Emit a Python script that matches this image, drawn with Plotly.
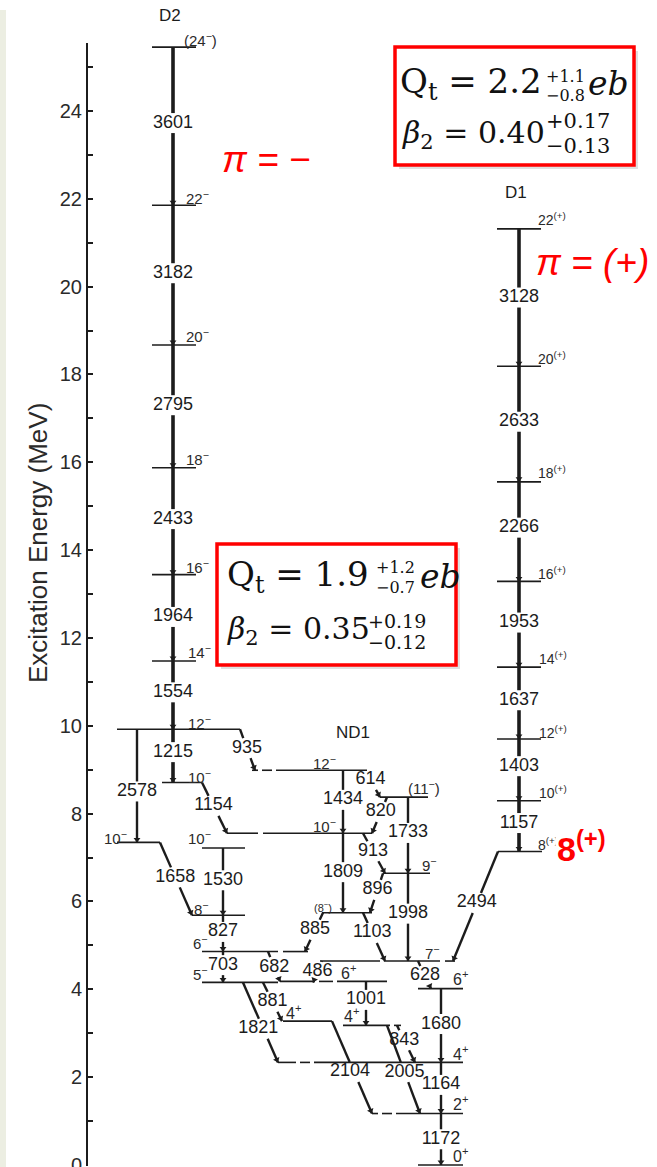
import math
import plotly.graph_objects as go

# ------------------------------------------------------------------
# Gamma-ray transitions: energy (keV), initial level, final level
# ------------------------------------------------------------------
gamma_kev = [1172, 1164, 1680, 628, 1998, 1733, 2494,
             1157, 1403, 1637, 1953, 2266, 2633, 3128,
             843, 1001, 2005, 2104, 1821, 881, 703, 682, 486,
             827, 1658, 1530, 2578, 1215, 935, 1154,
             885, 1103, 1809, 896, 913, 820, 614, 1434,
             1554, 1964, 2433, 2795, 3182, 3601]
gamma_from = ["g2", "g4", "g6", "n7", "n9", "n11", "p8",
              "p10", "p12", "p14", "p16", "p18", "p20", "p22",
              "b4", "b6", "b4", "a4", "m5", "m5", "m6", "m6", "n7",
              "m8", "m10a", "m10c", "m12", "m12", "m12", "m10b",
              "nd8", "nd8", "nd10", "n9", "nd10", "n11", "nd12", "nd12",
              "m14", "m16", "m18", "m20", "m22", "m24"]
gamma_to = ["g0", "g2", "g4", "g6", "n7", "n9", "n7",
            "p8", "p10", "p12", "p14", "p16", "p18", "p20",
            "g4", "b4", "g2", "g2", "g4", "a4", "m5", "b6", "m5",
            "m6", "m8", "m8", "m10a", "m10b", "nd12", "nd10",
            "m6", "n7", "nd8", "nd8", "n9", "nd10", "n11", "nd10",
            "m12", "m14", "m16", "m18", "m20", "m22"]

# Spin-parity labels of the levels
level_keys = ["g0", "g2", "g4", "g6", "n7", "n9", "n11",
              "p8", "p10", "p12", "p14", "p16", "p18", "p20", "p22",
              "b4", "b6", "a4", "m5", "m6", "m8", "m10a", "m10c", "m10b", "m12",
              "nd8", "nd10", "nd12",
              "m14", "m16", "m18", "m20", "m22", "m24"]
level_spins = ["0<sup>+</sup>", "2<sup>+</sup>", "4<sup>+</sup>", "6<sup>+</sup>",
               "7<sup>−</sup>", "9<sup>−</sup>", "(11<sup>−</sup>)",
               "8<sup>(+)</sup>", "10<sup>(+)</sup>", "12<sup>(+)</sup>", "14<sup>(+)</sup>",
               "16<sup>(+)</sup>", "18<sup>(+)</sup>", "20<sup>(+)</sup>", "22<sup>(+)</sup>",
               "4<sup>+</sup>", "6<sup>+</sup>", "4<sup>+</sup>", "5<sup>−</sup>", "6<sup>−</sup>",
               "8<sup>−</sup>", "10<sup>−</sup>", "10<sup>−</sup>", "10<sup>−</sup>", "12<sup>−</sup>",
               "(8<sup>−</sup>)", "10<sup>−</sup>", "12<sup>−</sup>",
               "14<sup>−</sup>", "16<sup>−</sup>", "18<sup>−</sup>", "20<sup>−</sup>",
               "22<sup>−</sup>", "(24<sup>−</sup>)"]

band_names = ["D2", "D1", "ND1"]
y_tick_values = [0, 2, 4, 6, 8, 10, 12, 14, 16, 18, 20, 22, 24]
y_title = "Excitation Energy (MeV)"

# Deformation results quoted for the two bands
qt_d1 = ("2.2", "+1.1", "−0.8")
beta_d1 = ("0.40", "+0.17", "−0.13")
qt_d2 = ("1.9", "+1.2", "−0.7")
beta_d2 = ("0.35", "+0.19", "−0.12")

# ------------------------------------------------------------------
# Level energies follow from the gamma-ray energies
# ------------------------------------------------------------------
level_kev = {"g0": 0.0}
changed = True
while changed:
    changed = False
    for eg, a, b in zip(gamma_kev, gamma_from, gamma_to):
        if b in level_kev and a not in level_kev:
            level_kev[a] = level_kev[b] + eg
            changed = True
        elif a in level_kev and b not in level_kev:
            level_kev[b] = level_kev[a] - eg
            changed = True


def mev(key):
    return level_kev[key] / 1000.0


# ------------------------------------------------------------------
# Page geometry
# ------------------------------------------------------------------
W, H = 657, 1167
M_L, M_R, M_T, M_B = 88, 0, 43, 1
PX_PER_MEV = 43.92
PLOT_H = H - M_T - M_B
Y_LO = -M_B / PX_PER_MEV
Y_HI = Y_LO + PLOT_H / PX_PER_MEV
ZERO_PY = H - 2 * M_B  # pixel row of 0 MeV


def xp(px):
    return (px - M_L) / (W - M_L - M_R)


def yp(py):
    return (H - M_B - py) / PLOT_H


def level_py(key):
    return ZERO_PY - mev(key) * PX_PER_MEV


INK = "#1c1c1c"
RED = "#ff0000"
FONT = "Liberation Sans, Arial, sans-serif"
SERIF = "DejaVu Serif, serif"

# horizontal extent(s) of each level line (x in page pixels)
LEVEL_SEGS = {
    "g0": [(418, 463)],
    "g2": [(372, 378), (382, 392), (396, 463)],
    "g4": [(278, 296), (300, 310), (314, 463)],
    "g6": [(418, 463)],
    "n7": [(320, 380), (384, 440), (445, 455)],
    "n9": [(383, 430)],
    "n11": [(380, 428)],
    "p8": [(498, 542)],
    "b4": [(343, 390), (394, 401)],
    "b6": [(280, 315), (319, 333), (337, 387)],
    "a4": [(283, 332)],
    "m5": [(202, 278)],
    "m6": [(202, 278), (283, 308)],
    "m8": [(192, 245)],
    "m10a": [(117, 160)],
    "m10c": [(202, 245)],
    "m10b": [(162, 202)],
    "m12": [(117, 240)],
    "nd8": [(322, 372)],
    "nd10": [(227, 258), (263, 372)],
    "nd12": [(252, 258), (262, 272), (276, 367)],
}
for k in ["p10", "p12", "p14", "p16", "p18", "p20", "p22"]:
    LEVEL_SEGS[k] = [(497, 541)]
for k in ["m14", "m16", "m18", "m20", "m22", "m24"]:
    LEVEL_SEGS[k] = [(152, 196)]

# spin label placement: (left x in pixels, vertical offset in pixels, font size)
SPIN_POS = {
    "m24": (182, -8, 15), "m22": (184, -8, 15), "m20": (184, -10, 15),
    "m18": (184, -9, 15), "m16": (184, -8, 15), "m14": (186, -9, 15),
    "m12": (186, -7, 15), "m10b": (186, -6, 15), "m10a": (102, -5, 15),
    "m10c": (186, -11, 15), "m8": (192, -7, 15), "m6": (191, -9, 15),
    "m5": (191, -9, 15), "nd12": (311, -8, 15), "nd10": (311, -8, 15),
    "n11": (406, -10, 15), "n9": (420, -9, 15), "nd8": (312, -6, 11),
    "n7": (423, -9, 15), "g6": (451, -11, 16), "g4": (451, -9, 16),
    "g2": (451, -11, 16), "g0": (451, -10, 16), "b6": (339, -9, 16),
    "b4": (342, -10, 16), "a4": (284, -9, 16),
    "p22": (536, -10, 14), "p20": (536, -8, 14), "p18": (536, -10, 14),
    "p16": (536, -8, 14), "p14": (537, -9, 14), "p12": (537, -7, 14),
    "p10": (537, -9, 14), "p8": (536, -7, 14),
}

# transition drawing: x at upper level, x at lower level, label fraction, label dx, style
TRANS_GEO = {
    3601: (173, 173, 0.48, 0, "band"), 3182: (173, 173, 0.486, 0, "band"),
    2795: (173, 173, 0.49, 0, "band"), 2433: (173, 173, 0.48, 0, "band"),
    1964: (173, 173, 0.49, 0, "band"), 1554: (173, 173, 0.46, 0, "band"),
    1215: (173, 173, 0.43, 0, "band"),
    3128: (519, 519, 0.50, 0, "band"), 2633: (519, 519, 0.48, 0, "band"),
    2266: (519, 519, 0.46, 0, "band"), 1953: (519, 519, 0.48, 0, "band"),
    1637: (519, 519, 0.46, 0, "band"), 1403: (519, 519, 0.44, 0, "band"),
    1157: (519, 519, 0.44, 0, "band"),
    2578: (137, 137, 0.55, 0, "main"),
    935: (240, 255, 0.46, 0, "main"),
    1154: (202, 227, 0.46, 0, "main"),
    1658: (160, 192, 0.48, 0, "main"),
    1530: (223, 223, 0.48, 0, "main"),
    827: (223, 223, 0.46, 0, "main"),
    703: (223, 223, 0.44, 0, "main"),
    682: (268, 280, 0.52, 0, "main"),
    881: (263, 282, 0.50, 0, "main"),
    1821: (243, 278, 0.58, -5, "main"),
    2104: (332, 372, 0.55, -4, "main"),
    1434: (343, 343, 0.47, 0, "main"),
    614: (365, 380, 0.36, 0, "main"),
    820: (387, 372, 0.41, 0, "main"),
    913: (363, 385, 0.45, 0, "main"),
    1809: (343, 343, 0.49, 0, "main"),
    1733: (408, 408, 0.47, 0, "main"),
    896: (383, 370, 0.42, 0, "main"),
    1998: (408, 408, 0.46, 0, "main"),
    885: (323, 305, 0.44, 0, "main"),
    1103: (363, 385, 0.42, 0, "main"),
    486: (322, 313, 0.50, 0, "main"),
    628: (418, 431, 0.54, 0, "main"),
    1680: (441, 441, 0.48, 0, "main"),
    843: (397, 415, 0.40, 0, "main"),
    2005: (387, 420, 0.53, 0, "main"),
    1001: (366, 366, 0.42, 0, "main"),
    1164: (441, 441, 0.44, 0, "main"),
    1172: (441, 441, 0.50, 0, "main"),
    2494: (498, 453, 0.47, 0, "main"),
}
GAP_PX = 10

# ------------------------------------------------------------------
# Build traces
# ------------------------------------------------------------------
lev_x, lev_y = [], []
for k in level_keys:
    for x0, x1 in LEVEL_SEGS[k]:
        lev_x += [x0, x1, None]
        lev_y += [mev(k), mev(k), None]

band_x, band_y, main_x, main_y = [], [], [], []
lab_x, lab_y, lab_t = [], [], []
arr_x, arr_y, arr_a = [], [], []
for eg, a, b in zip(gamma_kev, gamma_from, gamma_to):
    x0, x1, f, dx, style = TRANS_GEO[eg]
    y0, y1 = mev(a), mev(b)
    hpx = (y0 - y1) * PX_PER_MEV
    g = GAP_PX / hpx
    fa, fb = max(f - g, 0.0), min(f + g, 1.0)
    xs = [x0, x0 + (x1 - x0) * fa, None, x0 + (x1 - x0) * fb, x1, None]
    ys = [y0, y0 + (y1 - y0) * fa, None, y0 + (y1 - y0) * fb, y1, None]
    if style == "band":
        band_x += xs
        band_y += ys
    else:
        main_x += xs
        main_y += ys
    lab_x.append(x0 + (x1 - x0) * f + dx)
    lab_y.append(y0 + (y1 - y0) * f)
    lab_t.append(str(eg))
    # arrow head at the lower end
    dxp, dyp = x1 - x0, hpx
    ln = math.hypot(dxp, dyp)
    arr_x.append(x1 - dxp / ln * 3)
    arr_y.append(y1 + (dyp / ln * 3) / PX_PER_MEV)
    arr_a.append(-math.degrees(math.atan2(dxp, dyp)))

fig = go.Figure()
fig.add_trace(go.Scatter(x=lev_x, y=lev_y, mode="lines",
                         line=dict(color=INK, width=1.6), hoverinfo="skip"))
fig.add_trace(go.Scatter(x=main_x, y=main_y, mode="lines",
                         line=dict(color=INK, width=2.4), hoverinfo="skip"))
fig.add_trace(go.Scatter(x=band_x, y=band_y, mode="lines",
                         line=dict(color=INK, width=3.6), hoverinfo="skip"))
fig.add_trace(go.Scatter(x=arr_x, y=arr_y, mode="markers",
                         marker=dict(symbol="triangle-down", size=6, color=INK,
                                     angle=arr_a, line=dict(width=0)),
                         hoverinfo="skip"))
fig.add_trace(go.Scatter(x=lab_x, y=lab_y, mode="text", text=lab_t,
                         textposition="middle center",
                         textfont=dict(family=FONT, size=18, color=INK),
                         hoverinfo="skip"))

ann = []

# spin-parity labels
for k, s in zip(level_keys, level_spins):
    x, dy, fs = SPIN_POS[k]
    ann.append(dict(x=xp(x), y=yp(level_py(k) + dy), xref="paper", yref="paper",
                    text=s, showarrow=False, xanchor="left", yanchor="middle",
                    font=dict(family=FONT, size=fs, color="#2a2a2a")))

# band names
for name, (px, py) in zip(band_names, [(170, 15), (516, 193), (353, 732)]):
    ann.append(dict(x=xp(px), y=yp(py), xref="paper", yref="paper", text=name,
                    showarrow=False, xanchor="center", yanchor="middle",
                    font=dict(family=FONT, size=17, color=INK)))

# axis title
ann.append(dict(x=xp(38), y=yp(543), xref="paper", yref="paper", text=y_title,
                textangle=-90, showarrow=False, xanchor="center", yanchor="middle",
                font=dict(family=FONT, size=26, color="#2a2a2a")))

# parity notes and the highlighted band head
ann.append(dict(x=xp(266), y=yp(160), xref="paper", yref="paper",
                text="<i>π = −</i>", showarrow=False, xanchor="center", yanchor="middle",
                font=dict(family=FONT, size=37, color=RED)))
ann.append(dict(x=xp(592), y=yp(262), xref="paper", yref="paper",
                text="<i>π = (+)</i>", showarrow=False, xanchor="center", yanchor="middle",
                font=dict(family=FONT, size=37, color=RED)))
ann.append(dict(x=xp(555), y=yp(846), xref="paper", yref="paper",
                text="<b>8<sup>(+)</sup></b>", showarrow=False, xanchor="left",
                yanchor="middle", bgcolor="white",
                font=dict(family=FONT, size=34, color=RED)))


def quote_box(x0, y0, x1, y1, qt, beta, rows, beta_script):
    """Red framed box with Q_t and beta_2 values (pixel layout)."""
    shapes = [
        dict(type="rect", xref="paper", yref="paper",
             x0=xp(x0 + 4), x1=xp(x1 + 4), y0=yp(y1 + 4), y1=yp(y0 + 4),
             fillcolor="rgba(0,0,0,0.12)", line=dict(width=0), layer="above"),
        dict(type="rect", xref="paper", yref="paper",
             x0=xp(x0), x1=xp(x1), y0=yp(y1), y1=yp(y0),
             fillcolor="white", line=dict(color=RED, width=3.5), layer="above"),
    ]
    (qx, qy, qsx, qup, qdn, ebx), (bx, by, bsx, bup, bdn) = rows
    texts = [
        (qx, qy, "Q<sub>t</sub> = " + qt[0], 34),
        (qsx, qup, qt[1], 16), (qsx, qdn, qt[2], 16),
        (ebx, qy, "<i>eb</i>", 33),
        (bx, by, "<i>β</i><sub>2</sub> = " + beta[0], 30),
        (bsx, bup, beta[1], beta_script), (bsx, bdn, beta[2], beta_script),
    ]
    notes = []
    for tx, ty, tt, fs in texts:
        notes.append(dict(x=xp(tx), y=yp(ty), xref="paper", yref="paper", text=tt,
                          showarrow=False, xanchor="left", yanchor="middle",
                          font=dict(family=SERIF, size=fs, color="#111111")))
    return shapes, notes


shapes = [dict(type="rect", xref="paper", yref="paper",
               x0=xp(0), x1=xp(6), y0=yp(1167), y1=yp(10),
               fillcolor="#eceee2", line=dict(width=0), layer="below")]
s1, n1 = quote_box(395, 47, 634, 165, qt_d1, beta_d1,
                   ((398, 84, 544, 77, 96, 586), (400, 134, 544, 121, 146)), 21)
s2, n2 = quote_box(217, 544, 456, 665, qt_d2, beta_d2,
                   ((225, 576, 374, 567, 587, 418), (225, 630, 366, 621, 642)), 19)
shapes += s1 + s2
ann += n1 + n2

fig.update_layout(
    width=W, height=H,
    margin=dict(l=M_L, r=M_R, t=M_T, b=M_B, pad=0, autoexpand=False),
    paper_bgcolor="white", plot_bgcolor="white",
    showlegend=False,
    xaxis=dict(range=[M_L, W - M_R], visible=False, fixedrange=True,
               automargin=False),
    yaxis=dict(range=[Y_LO, Y_HI], tickvals=y_tick_values, ticks="inside",
               ticklen=5, tickwidth=1.5, tickcolor=INK, showgrid=False,
               zeroline=False, showline=True, linecolor=INK, linewidth=2,
               tickfont=dict(family=FONT, size=20, color="#2a2a2a"),
               ticklabeloverflow="allow", automargin=False,
               minor=dict(dtick=1, ticks="inside", ticklen=5, tickwidth=1.5,
                          tickcolor=INK, showgrid=False),
               fixedrange=True),
    shapes=shapes,
    annotations=ann,
)

fig.write_html("out.html")
